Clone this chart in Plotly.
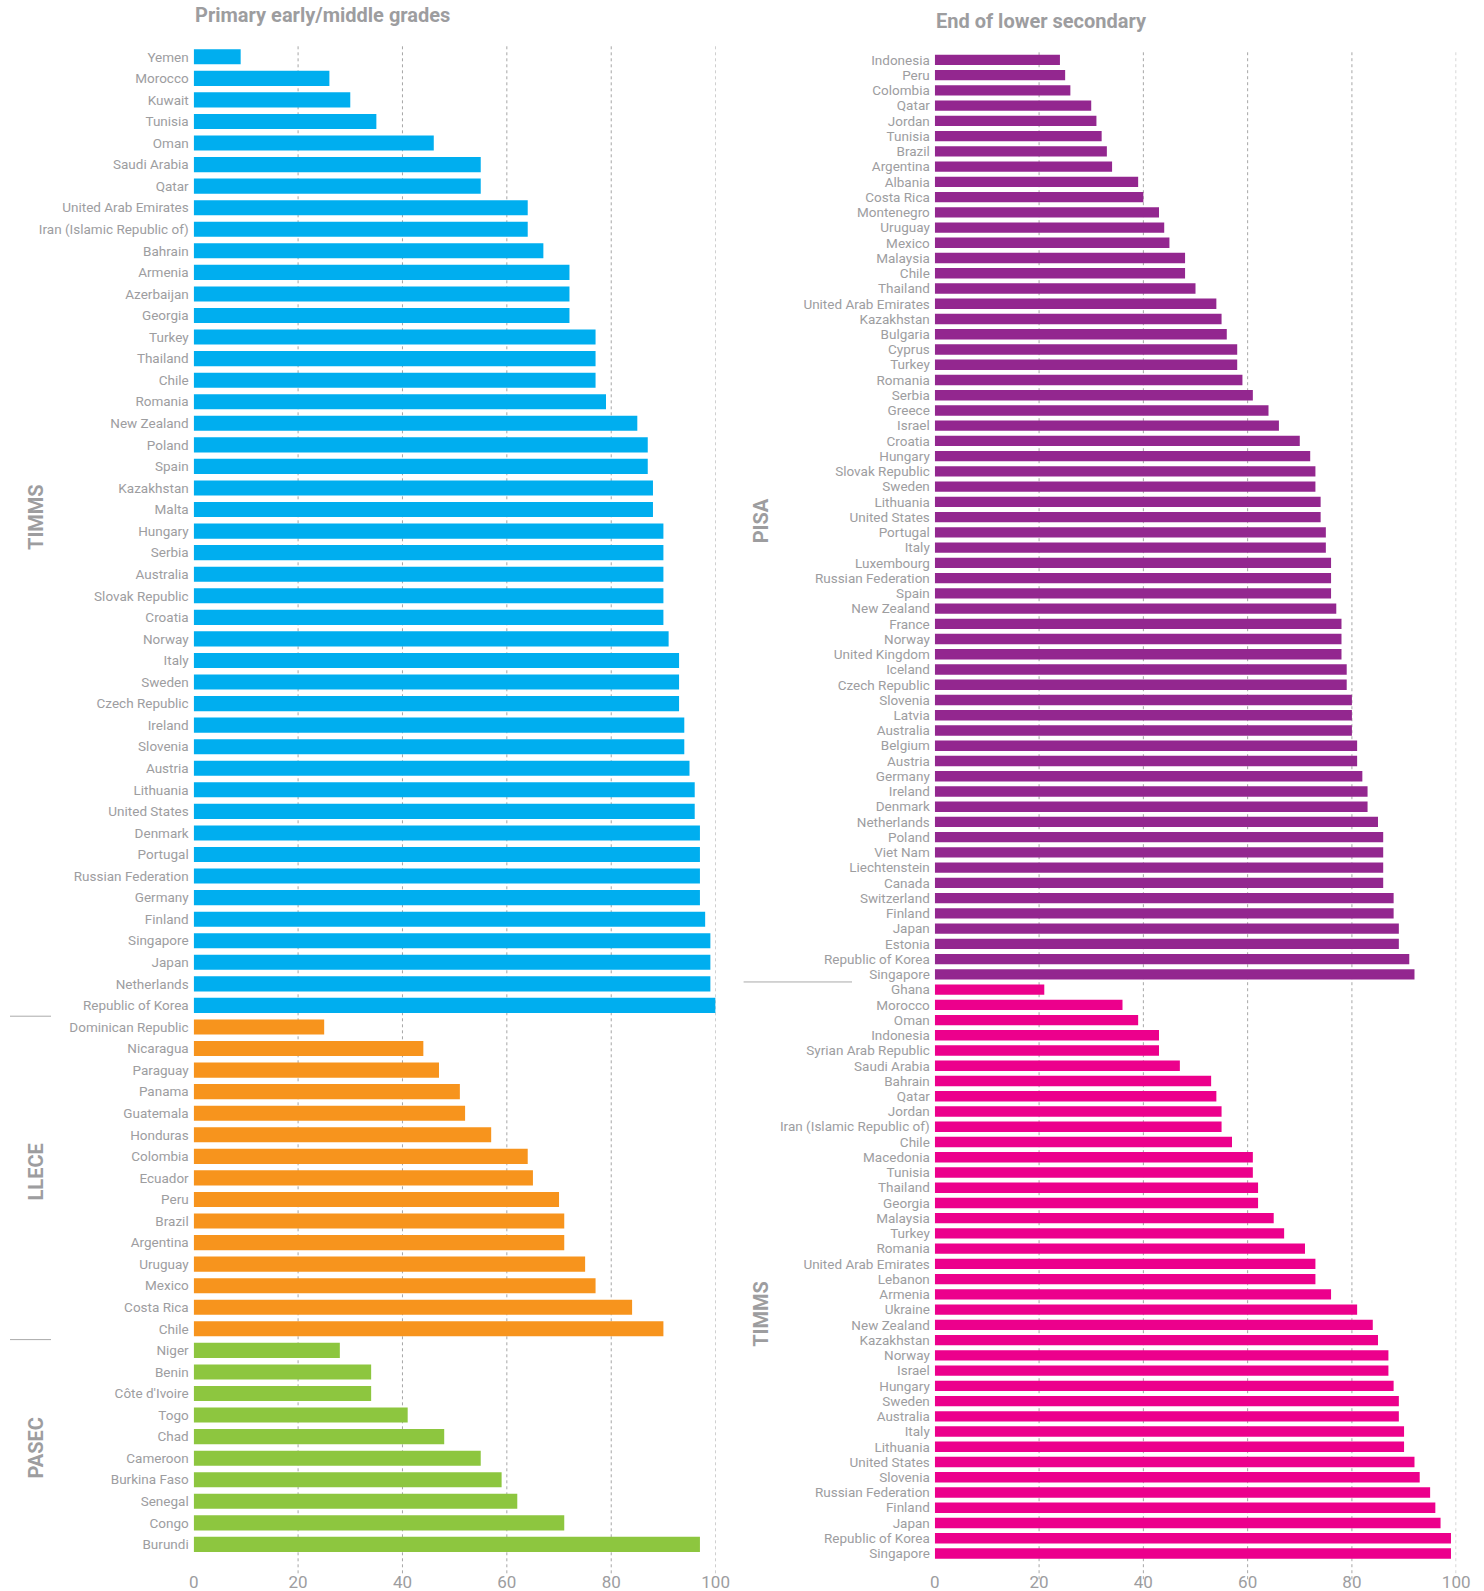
import plotly.graph_objects as go

# ---------------- DATA ----------------
left_timms_countries = ["Yemen", "Morocco", "Kuwait", "Tunisia", "Oman", "Saudi Arabia", "Qatar",
    "United Arab Emirates", "Iran (Islamic Republic of)", "Bahrain", "Armenia", "Azerbaijan", "Georgia",
    "Turkey", "Thailand", "Chile", "Romania", "New Zealand", "Poland", "Spain", "Kazakhstan", "Malta",
    "Hungary", "Serbia", "Australia", "Slovak Republic", "Croatia", "Norway", "Italy", "Sweden",
    "Czech Republic", "Ireland", "Slovenia", "Austria", "Lithuania", "United States", "Denmark",
    "Portugal", "Russian Federation", "Germany", "Finland", "Singapore", "Japan", "Netherlands",
    "Republic of Korea"]
left_timms_values = [9, 26, 30, 35, 46, 55, 55, 64, 64, 67, 72, 72, 72, 77, 77, 77, 79, 85, 87, 87,
    88, 88, 90, 90, 90, 90, 90, 91, 93, 93, 93, 94, 94, 95, 96, 96, 97, 97, 97, 97, 98, 99, 99, 99, 100]

llece_countries = ["Dominican Republic", "Nicaragua", "Paraguay", "Panama", "Guatemala", "Honduras",
    "Colombia", "Ecuador", "Peru", "Brazil", "Argentina", "Uruguay", "Mexico", "Costa Rica", "Chile"]
llece_values = [25, 44, 47, 51, 52, 57, 64, 65, 70, 71, 71, 75, 77, 84, 90]

pasec_countries = ["Niger", "Benin", "Côte d'Ivoire", "Togo", "Chad", "Cameroon", "Burkina Faso",
    "Senegal", "Congo", "Burundi"]
pasec_values = [28, 34, 34, 41, 48, 55, 59, 62, 71, 97]

pisa_countries = ["Indonesia", "Peru", "Colombia", "Qatar", "Jordan", "Tunisia", "Brazil", "Argentina",
    "Albania", "Costa Rica", "Montenegro", "Uruguay", "Mexico", "Malaysia", "Chile", "Thailand",
    "United Arab Emirates", "Kazakhstan", "Bulgaria", "Cyprus", "Turkey", "Romania", "Serbia", "Greece",
    "Israel", "Croatia", "Hungary", "Slovak Republic", "Sweden", "Lithuania", "United States", "Portugal",
    "Italy", "Luxembourg", "Russian Federation", "Spain", "New Zealand", "France", "Norway",
    "United Kingdom", "Iceland", "Czech Republic", "Slovenia", "Latvia", "Australia", "Belgium", "Austria",
    "Germany", "Ireland", "Denmark", "Netherlands", "Poland", "Viet Nam", "Liechtenstein", "Canada",
    "Switzerland", "Finland", "Japan", "Estonia", "Republic of Korea", "Singapore"]
pisa_values = [24, 25, 26, 30, 31, 32, 33, 34, 39, 40, 43, 44, 45, 48, 48, 50, 54, 55, 56, 58, 58, 59,
    61, 64, 66, 70, 72, 73, 73, 74, 74, 75, 75, 76, 76, 76, 77, 78, 78, 78, 79, 79, 80, 80, 80, 81, 81,
    82, 83, 83, 85, 86, 86, 86, 86, 88, 88, 89, 89, 91, 92]

right_timms_countries = ["Ghana", "Morocco", "Oman", "Indonesia", "Syrian Arab Republic", "Saudi Arabia",
    "Bahrain", "Qatar", "Jordan", "Iran (Islamic Republic of)", "Chile", "Macedonia", "Tunisia", "Thailand",
    "Georgia", "Malaysia", "Turkey", "Romania", "United Arab Emirates", "Lebanon", "Armenia", "Ukraine",
    "New Zealand", "Kazakhstan", "Norway", "Israel", "Hungary", "Sweden", "Australia", "Italy", "Lithuania",
    "United States", "Slovenia", "Russian Federation", "Finland", "Japan", "Republic of Korea", "Singapore"]
right_timms_values = [21, 36, 39, 43, 43, 47, 53, 54, 55, 55, 57, 61, 61, 62, 62, 65, 67, 71, 73, 73,
    76, 81, 84, 85, 87, 87, 88, 89, 89, 90, 90, 92, 93, 95, 96, 97, 99, 99]

x_ticks = [0, 20, 40, 60, 80, 100]
grid_vals = [20, 40, 60, 80, 100]

# ---------------- STYLE ----------------
W, H = 1484, 1591
GRAY = "#9d9d9f"
C_TIMMS_L = "#00aeef"
C_LLECE = "#f7941d"
C_PASEC = "#8dc63f"
C_PISA = "#93278f"
C_TIMMS_R = "#ec008c"
FONT = "Roboto, 'Noto Sans', sans-serif"
NARROW = "'Liberation Sans Narrow', 'Roboto', sans-serif"

fig = go.Figure()

left_groups = [(left_timms_countries, left_timms_values, C_TIMMS_L, "TIMMS"),
               (llece_countries, llece_values, C_LLECE, "LLECE"),
               (pasec_countries, pasec_values, C_PASEC, "PASEC")]
right_groups = [(pisa_countries, pisa_values, C_PISA, "PISA"),
                (right_timms_countries, right_timms_values, C_TIMMS_R, "TIMMS")]


def add_panel(groups, xa, ya, width):
    names, pos, bounds = [], [], []
    i = 0
    for countries, vals, col, lab in groups:
        p = list(range(i, i + len(countries)))
        fig.add_trace(go.Bar(x=vals, y=p, orientation="h", width=width,
                             marker=dict(color=col, line=dict(width=0)),
                             xaxis=xa, yaxis=ya, showlegend=False, name=lab,
                             hovertext=countries))
        names += countries
        pos += p
        bounds.append((i, i + len(countries) - 1))
        i += len(countries)
    return names, pos, bounds


lnames, lpos, lbounds = add_panel(left_groups, "x", "y", 0.7)
rnames, rpos, rbounds = add_panel(right_groups, "x2", "y2", 0.68)

L_XDOM = [193.7 / W, 715.6 / W]
R_XDOM = [934.8 / W, 1456.2 / W]
L_YDOM = [1 - 1555.2 / H, 1 - 46.0 / H]
R_YDOM = [1 - 1561.1 / H, 1 - 52.3 / H]

fig.update_layout(
    template="none",
    width=W, height=H, autosize=False, margin=dict(l=0, r=0, t=0, b=0, pad=0),
    paper_bgcolor="white", plot_bgcolor="white",
    font=dict(family=FONT, color=GRAY),
    xaxis=dict(domain=L_XDOM, range=[0, 100], tickvals=x_ticks, showgrid=False, zeroline=False,
               showline=False, ticks="", tickfont=dict(size=17, color=GRAY, family=NARROW),
               ticklabelstandoff=15, anchor="y", fixedrange=True, automargin=False),
    yaxis=dict(domain=L_YDOM, range=[len(lnames) - 0.5, -0.5], tickvals=lpos, ticktext=lnames,
               showgrid=False, zeroline=False, showline=False, ticks="", ticklabelstandoff=4,
               tickfont=dict(size=13.5, color=GRAY, family=FONT), anchor="x", fixedrange=True,
               automargin=False),
    xaxis2=dict(domain=R_XDOM, range=[0, 100], tickvals=x_ticks, showgrid=False, zeroline=False,
                showline=False, ticks="", tickfont=dict(size=17, color=GRAY, family=NARROW),
                ticklabelstandoff=9, anchor="y2", fixedrange=True, automargin=False),
    yaxis2=dict(domain=R_YDOM, range=[len(rnames) - 0.5, -0.5], tickvals=rpos, ticktext=rnames,
                showgrid=False, zeroline=False, showline=False, ticks="", ticklabelstandoff=4,
                tickfont=dict(size=13.5, color=GRAY, family=NARROW), anchor="x2", fixedrange=True,
                automargin=False),
)

shapes = []
for xr, yr in [("x", "y domain"), ("x2", "y2 domain")]:
    for v in grid_vals:
        shapes.append(dict(type="line", xref=xr, yref=yr, x0=v, x1=v, y0=-0.012, y1=1.0,
                           line=dict(color="#a6a6a6", width=1, dash="3px,3px"), layer="below"))

# group separators
for b in lbounds[:-1]:
    shapes.append(dict(type="line", xref="paper", yref="y", x0=10 / W, x1=51 / W,
                       y0=b[1] + 0.5, y1=b[1] + 0.5, line=dict(color="#aaaaaa", width=1)))
for b in rbounds[:-1]:
    shapes.append(dict(type="line", xref="paper", yref="y2", x0=743.6 / W, x1=852 / W,
                       y0=b[1] + 0.5, y1=b[1] + 0.5, line=dict(color="#aaaaaa", width=1)))
fig.update_layout(shapes=shapes)

ann = []
ann.append(dict(text="<b>Primary early/middle grades</b>", xref="paper", yref="paper",
                x=193.0 / W, y=1 - 15.2 / H, xanchor="left", yanchor="middle", showarrow=False,
                font=dict(size=20, color=GRAY, family=FONT)))
ann.append(dict(text="<b>End of lower secondary</b>", xref="paper", yref="paper",
                x=934.0 / W, y=1 - 21.3 / H, xanchor="left", yanchor="middle", showarrow=False,
                font=dict(size=20, color=GRAY, family=NARROW)))

group_labels = [("TIMMS", 35.5, 517.5), ("LLECE", 35.5, 1172), ("PASEC", 35.5, 1448),
                ("PISA", 760.8, 520.5), ("TIMMS", 760.8, 1314)]
for t, px, py in group_labels:
    ann.append(dict(text="<b>" + t + "</b>", xref="paper", yref="paper", x=px / W, y=1 - py / H,
                    xanchor="center", yanchor="middle", textangle=-90, showarrow=False,
                    font=dict(size=20, color=GRAY, family=FONT)))
fig.update_layout(annotations=ann)

fig.write_html("out.html", config={"displayModeBar": False, "responsive": False},
               post_script="document.body.style.margin='0';document.body.style.overflow='hidden';")
